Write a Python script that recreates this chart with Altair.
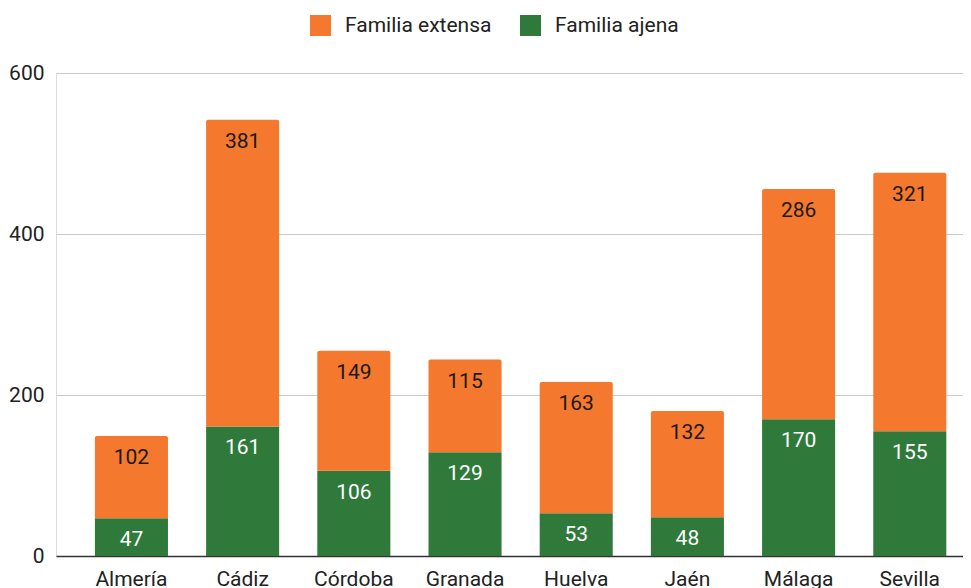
import altair as alt
import pandas as pd

provincias = ["Almería", "Cádiz", "Córdoba", "Granada", "Huelva", "Jaén", "Málaga", "Sevilla"]
familia_ajena = [47, 161, 106, 129, 53, 48, 170, 155]
familia_extensa = [102, 381, 149, 115, 163, 132, 286, 321]
series = ["Familia extensa", "Familia ajena"]
colores = ["#F4782E", "#2F7A3B"]
y_ticks = [0, 200, 400, 600]

rows = []
for p, a, e in zip(provincias, familia_ajena, familia_extensa):
    rows.append({"provincia": p, "serie": "Familia ajena", "valor": a, "orden": 0})
    rows.append({"provincia": p, "serie": "Familia extensa", "valor": e, "orden": 1})
df = pd.DataFrame(rows)

FONT = "Roboto"
FS = 21

base = alt.Chart(df).transform_stack(
    stack="valor", groupby=["provincia"], as_=["y0", "y1"],
    sort=[alt.SortField("orden", order="ascending")]
)

x_enc = alt.X("provincia:N", sort=provincias, title=None,
              scale=alt.Scale(paddingInner=0.343, paddingOuter=0.25, align=0.7),
              axis=alt.Axis(labelAngle=0, labelFontSize=FS, labelColor="#222222",
                            labelFont=FONT, ticks=False, labelPadding=12,
                            domainColor="#333333", domainWidth=1.5, grid=False))
y_enc = alt.Y("y1:Q", title=None,
              scale=alt.Scale(domain=[0, 600], nice=False),
              axis=alt.Axis(values=y_ticks, labelFontSize=FS, labelColor="#222222",
                            labelFont=FONT, ticks=False, domain=False, labelPadding=12,
                            gridColor="#cccccc", gridWidth=1,
                            minExtent=48, maxExtent=48))
color_enc = alt.Color("serie:N",
                      scale=alt.Scale(domain=series, range=colores),
                      legend=alt.Legend(title=None, orient="none", direction="horizontal",
                                        legendX=254, legendY=-58,
                                        symbolType="square", symbolSize=441,
                                        symbolStrokeWidth=0, symbolOpacity=1,
                                        labelFontSize=FS, labelFont=FONT,
                                        labelColor="#222222", labelOffset=14,
                                        columnPadding=28))

bars_green = base.transform_filter(alt.datum.serie == "Familia ajena").mark_bar().encode(
    x=x_enc, y=y_enc, y2="y0:Q", color=color_enc
)
bars_orange = base.transform_filter(alt.datum.serie == "Familia extensa").mark_bar(
    cornerRadiusTopLeft=2, cornerRadiusTopRight=2
).encode(
    x=x_enc, y=y_enc, y2="y0:Q", color=color_enc
)

labels = base.mark_text(baseline="middle", align="center", dy=22, fontSize=FS, font=FONT).encode(
    x=alt.X("provincia:N", sort=provincias),
    y=alt.Y("y1:Q"),
    text="valor:Q",
    color=alt.condition(alt.datum.serie == "Familia ajena",
                        alt.value("#ffffff"), alt.value("#1a1a1a")),
)

chart = alt.layer(bars_green, bars_orange, labels).properties(
    width=907, height=483,
    padding={"left": 0, "top": 7, "right": 0, "bottom": 0},
).configure_view(stroke=None).configure(font=FONT)

chart.save("out.html", embed_options={"renderer": "svg", "actions": False})
